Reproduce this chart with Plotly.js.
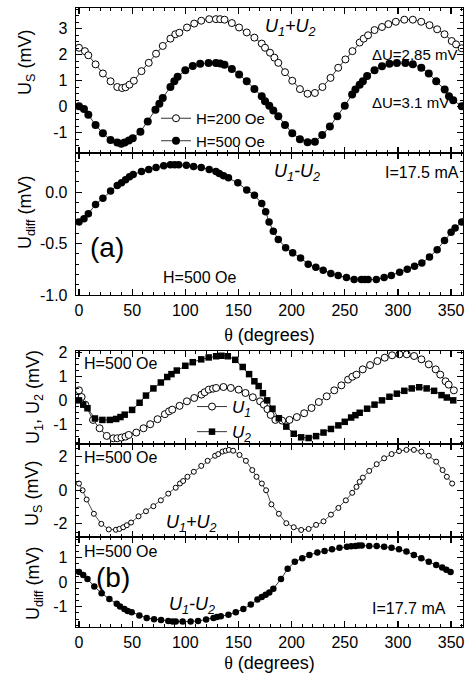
<!DOCTYPE html>
<html>
<head>
<meta charset="utf-8">
<script src="https://cdn.plot.ly/plotly-3.0.1.min.js"></script>
<style>html,body{margin:0;padding:0;background:#fff;}#chart{width:470px;height:673px;}</style>
</head>
<body>
<div id="chart"></div>
<script>
// ---------- data ----------
// (a) top panel: U_S = U1+U2, two fields
const thetaA200 = [0,5.6,8.8,15.6,22.5,29.7,36,40.6,43.8,47.5,51.6,58.8,65.6,72.5,78.8,86,90.6,94.4,101.6,108.4,115,122.5,128.8,132.8,136.9,143.8,150.6,157.8,165,171.9,175,179.7,183.8,187.5,193.8,200.6,207.8,215,221.9,229,236.6,243.8,250.6,257.2,264,267.8,271.9,278,285,291,298,306,314,321.9,329.7,336.9,343.8,350.6,354.7,360];
const usA200 = [2.27,2.14,1.98,1.63,1.28,0.98,0.76,0.72,0.75,0.85,1.0,1.37,1.69,2.04,2.34,2.62,2.79,2.85,3.05,3.2,3.31,3.37,3.37,3.37,3.35,3.22,3.05,2.86,2.66,2.43,2.27,2.08,1.89,1.69,1.33,1.0,0.68,0.5,0.53,0.76,1.11,1.5,1.82,2.14,2.47,2.62,2.75,2.95,3.07,3.18,3.27,3.35,3.35,3.27,3.14,2.98,2.79,2.53,2.4,2.25];
const thetaA500 = [0,4.7,8.8,15.6,22.5,29.7,36,39.7,43,46.9,50.6,57.8,64.7,71.9,75.6,78.8,86,89.7,92.8,100,107,114,121.9,128.8,132.8,136.9,143.8,150.6,157.8,165,171.9,175,179,182.8,187.5,193.8,200.6,207.8,215,221.9,228.8,236,243,250,256.9,260,264,267,271,278,285,292,299,307,314,322,329,336,344,348,352,360];
const usA500 = [0.02,-0.09,-0.31,-0.70,-1.02,-1.28,-1.38,-1.42,-1.38,-1.30,-1.21,-0.96,-0.57,-0.12,0.12,0.34,0.76,0.98,1.15,1.40,1.57,1.65,1.68,1.68,1.66,1.62,1.45,1.24,0.98,0.68,0.40,0.21,0.04,-0.14,-0.37,-0.70,-1.02,-1.25,-1.37,-1.35,-1.09,-0.76,-0.37,0.04,0.47,0.66,0.85,0.98,1.18,1.40,1.56,1.65,1.68,1.68,1.64,1.50,1.28,0.98,0.66,0.40,0.25,0.02];
// (a) bottom panel: U_diff = U1-U2
const thetaAdiff = [0,4.7,8.8,15.6,22.5,29.7,36,40,43.8,47.5,51,58.8,65.6,72.5,79.7,86,90,93.8,101,107.8,115,122.5,128.8,132,136,140.6,149.4,157.8,165,171.9,175.6,178.8,182.8,187.5,194.4,201,208.4,215.6,222.8,229.7,236.9,243.8,251.6,258.8,265.6,268.8,272,279.7,287,293.8,301.6,308.8,315.6,322.5,329.7,336.9,343.8,350,353.8,360];
const udiffA = [-0.29,-0.26,-0.21,-0.12,-0.06,0.01,0.065,0.09,0.12,0.15,0.17,0.20,0.22,0.24,0.255,0.265,0.265,0.265,0.26,0.25,0.24,0.22,0.20,0.18,0.16,0.14,0.09,0.02,-0.03,-0.11,-0.19,-0.29,-0.38,-0.46,-0.54,-0.59,-0.64,-0.70,-0.73,-0.76,-0.79,-0.81,-0.83,-0.85,-0.85,-0.85,-0.85,-0.85,-0.83,-0.81,-0.78,-0.75,-0.72,-0.69,-0.63,-0.56,-0.47,-0.39,-0.35,-0.29];
// (b) top panel: U1 and U2
const thetaU1 = [0,2.5,5.9,13.2,19.4,26.1,32.3,36,40,43.7,46.8,53.9,60.7,67,73.9,80.8,84.7,87.7,94.6,101.5,108.4,115.2,118.2,122.1,126.1,129,135.9,142.8,150.2,156.6,163.5,170.4,173.9,177.3,180.3,184.7,191.1,198,204.9,211.8,218.7,225.6,233,240.1,246.8,253.1,257.1,261,266.9,273.8,280.7,287.6,294.5,301.4,308.3,315.2,322.1,329,335.5,339.8,344.8,347.7,352.6];
const u1B = [0.42,0.14,-0.18,-0.82,-1.17,-1.49,-1.59,-1.59,-1.56,-1.52,-1.45,-1.35,-1.17,-1.0,-0.79,-0.58,-0.46,-0.39,-0.23,-0.04,0.10,0.24,0.34,0.45,0.49,0.52,0.56,0.52,0.45,0.31,0.13,-0.04,-0.18,-0.37,-0.61,-0.82,-0.85,-0.82,-0.70,-0.54,-0.32,-0.07,0.17,0.42,0.63,0.87,0.99,1.08,1.30,1.48,1.65,1.79,1.89,1.93,1.93,1.86,1.72,1.51,1.30,1.08,0.80,0.66,0.42];
const thetaU2 = [0,4,8,15,22,29,35,39,43,50,57,63,70,77,83,87,92,100,107,115,122,129,134,140,147,154,160,165,169,173,177,182,188,195,202,209,216,223,230,237,244,250,256,260,264,271,278,285,292,299,306,313,320,327,334,341,346,352];
const u2B = [0,-0.18,-0.33,-0.76,-0.82,-0.82,-0.78,-0.7,-0.6,-0.4,-0.1,0.2,0.5,0.75,0.98,1.1,1.25,1.45,1.6,1.72,1.8,1.85,1.87,1.85,1.7,1.4,1.1,0.8,0.6,0.3,0.0,-0.35,-0.75,-1.1,-1.4,-1.55,-1.58,-1.5,-1.35,-1.2,-1.05,-0.9,-0.72,-0.62,-0.52,-0.35,-0.18,0.0,0.15,0.28,0.4,0.5,0.55,0.5,0.4,0.22,0.12,0.0];
// (b) middle panel: U_S = U1+U2
const thetaBs = [0,3.4,7.2,14,21,28,34.7,38,41.6,45,49,56,63,70,77,84,91,95,98,102,108,115,121,128,131,135,138,141,145,151,157,163,167,172,176,181,188,195,202,209,216,223,230,237,244,251,257,261,264,267,273,280,287,294,301,308,315,322,329,336,342,346,351];
const usB = [0.4,0.0,-0.55,-1.4,-2.0,-2.33,-2.35,-2.3,-2.2,-2.08,-1.92,-1.55,-1.25,-0.95,-0.6,-0.2,0.15,0.4,0.55,0.8,1.1,1.45,1.75,2.05,2.15,2.3,2.35,2.4,2.35,2.1,1.75,1.2,0.8,0.4,0.0,-0.84,-1.4,-1.96,-2.2,-2.36,-2.3,-2.06,-1.85,-1.45,-1.05,-0.6,-0.15,0.2,0.5,0.75,1.15,1.55,1.9,2.15,2.33,2.4,2.4,2.3,2.05,1.7,1.2,0.8,0.4];
// (b) bottom panel: U_diff = U1-U2
const thetaBdiff = [0,4,8,14.4,21.3,28.6,35.5,38.6,42.7,45.8,49.6,56.8,63.7,70.6,77.2,84,88,91,97.5,105,112,119.6,126.5,129.7,133.4,140.6,147.5,154.6,161.6,167.8,171.9,175.6,179,182.8,190,196.3,203,210,216.7,224.2,231,238,245,252,256,260,263,266,273,280,287,294,301,308,315,322,329,336,341.6,345.5,349.5];
const udiffB = [0.42,0.29,0.13,-0.17,-0.45,-0.68,-0.87,-0.99,-1.09,-1.17,-1.22,-1.35,-1.45,-1.5,-1.54,-1.58,-1.6,-1.6,-1.6,-1.6,-1.58,-1.51,-1.45,-1.41,-1.38,-1.32,-1.22,-1.09,-0.9,-0.70,-0.6,-0.51,-0.42,-0.26,0.13,0.55,0.83,0.98,1.11,1.21,1.27,1.34,1.40,1.44,1.46,1.47,1.49,1.49,1.47,1.47,1.44,1.40,1.34,1.25,1.11,0.98,0.83,0.70,0.60,0.51,0.42];

// tick labels
const xTickVals = [0,50,100,150,200,250,300,350];
const xTickText = ['0','50','100','150','200','250','300','350'];
const yA1Vals = [-1,0,1,2,3];            const yA1Text = ['-1','0','1','2','3'];
const yA2Vals = [-1.0,-0.5,0.0];         const yA2Text = ['-1.0','-0.5','0.0'];
const yB1Vals = [-1,0,1,2];              const yB1Text = ['-1','0','1','2'];
const yB2Vals = [-2,0,2];                const yB2Text = ['-2','0','2'];
const yB3Vals = [-1,0,1];                const yB3Text = ['-1','0','1'];

// ---------- styling / layout ----------
const FONT = 'Liberation Sans, Arial, Helvetica, sans-serif';
const W = 470, H = 673, L = 76, R = 7;
const PW = W - L - R;
const px = v => (v - L) / PW;          // pixel x -> paper x
const py = v => 1 - v / H;             // pixel y -> paper y

const lineStyle = {color: 'black', width: 0.8};
const openMk = s => ({symbol: 'circle', size: s, color: 'white', line: {color: 'black', width: 1}});
const fillMk = s => ({symbol: 'circle', size: s, color: 'black', line: {color: 'black', width: 0}});

const traces = [
  {x: thetaA200, y: usA200, xaxis: 'x', yaxis: 'y', mode: 'lines+markers', name: 'H=200 Oe',
   line: lineStyle, marker: openMk(7), legend: 'legend'},
  {x: thetaA500, y: usA500, xaxis: 'x', yaxis: 'y', mode: 'lines+markers', name: 'H=500 Oe',
   line: lineStyle, marker: fillMk(8), legend: 'legend'},
  {x: thetaAdiff, y: udiffA, xaxis: 'x2', yaxis: 'y2', mode: 'lines+markers', showlegend: false,
   line: lineStyle, marker: fillMk(7.5)},
  {x: thetaU1, y: u1B, xaxis: 'x3', yaxis: 'y3', mode: 'lines+markers', name: '<i>U</i><sub><i>1</i></sub>',
   line: lineStyle, marker: openMk(7), legend: 'legend2'},
  {x: thetaU2, y: u2B, xaxis: 'x3', yaxis: 'y3', mode: 'lines+markers', name: '<i>U</i><sub><i>2</i></sub>',
   line: lineStyle, marker: {symbol: 'square', size: 6.5, color: 'black'}, legend: 'legend2'},
  {x: thetaBs, y: usB, xaxis: 'x4', yaxis: 'y4', mode: 'lines+markers', showlegend: false,
   line: {color: 'black', width: 0.7}, marker: openMk(5)},
  {x: thetaBdiff, y: udiffB, xaxis: 'x5', yaxis: 'y5', mode: 'lines+markers', showlegend: false,
   line: lineStyle, marker: fillMk(6.5)}
];

const tickFont = {family: FONT, size: 16, color: 'black'};
function xAxis(anchor, labels, title) {
  const a = {
    domain: [0, 1], anchor: anchor, range: [-2.8, 361.2],
    showline: true, linewidth: 1.3, linecolor: 'black', mirror: 'allticks',
    ticks: 'inside', ticklen: 6, tickwidth: 1.2, tickcolor: 'black',
    tickvals: xTickVals, ticktext: xTickText, showticklabels: labels,
    showgrid: false, zeroline: false, tickfont: tickFont,
    minor: {dtick: 10, tick0: 0, ticks: 'inside', ticklen: 3, tickwidth: 1, tickcolor: 'black', showgrid: false}
  };
  if (title) a.title = {text: '<span style="font-family:Liberation Serif">θ</span> (degrees)',
                        font: {family: FONT, size: 18, color: 'black'}, standoff: title};
  return a;
}
function yAxis(anchor, dom, range, vals, text, minor) {
  return {
    domain: dom, anchor: anchor, range: range,
    showline: true, linewidth: 1.3, linecolor: 'black', mirror: 'allticks',
    ticks: 'inside', ticklen: 6, tickwidth: 1.2, tickcolor: 'black',
    tickvals: vals, ticktext: text, showgrid: false, zeroline: false, tickfont: tickFont,
    ticklabelstandoff: 4,
    minor: {dtick: minor, ticks: 'inside', ticklen: 3, tickwidth: 1, tickcolor: 'black', showgrid: false}
  };
}

const annFont = (s) => ({family: FONT, size: s, color: 'black'});
function ann(text, x, y, size, xanchor, angle) {
  return {text: text, xref: 'paper', yref: 'paper', x: px(x), y: py(y),
          xanchor: xanchor || 'center', yanchor: 'middle', showarrow: false,
          textangle: angle || 0, font: annFont(size)};
}

const annotations = [
  // y-axis titles
  ann('U<sub>S</sub> (mV)', 26, 63, 18, 'center', -90),
  ann('U<sub>diff</sub> (mV)', 26, 212, 18, 'center', -90),
  ann('U<sub>1</sub>, U<sub>2</sub> (mV)', 34, 397, 18, 'center', -90),
  ann('U<sub>S</sub> (mV)', 34, 494, 18, 'center', -90),
  ann('U<sub>diff</sub> (mV)', 34, 583, 18, 'center', -90),
  // panel (a)
  ann('<i>U<sub>1</sub>+U<sub>2</sub></i>', 290, 28, 18),
  ann('ΔU=2.85 mV', 370, 54, 15, 'left'),
  ann('ΔU=3.1 mV', 370, 102, 15, 'left'),
  ann('<i>U<sub>1</sub>-U<sub>2</sub></i>', 297, 172, 18),
  ann('I=17.5 mA', 461, 172, 16, 'right'),
  ann('(a)', 107, 247, 28),
  ann('H=500 Oe', 199, 277, 16),
  // panel (b)
  ann('H=500 Oe', 82, 363, 16, 'left'),
  ann('H=500 Oe', 82, 457, 16, 'left'),
  ann('<i>U<sub>1</sub>+U<sub>2</sub></i>', 191, 523, 18),
  ann('H=500 Oe', 82, 551, 16, 'left'),
  ann('(b)', 113, 577, 28),
  ann('<i>U<sub>1</sub>-U<sub>2</sub></i>', 192, 605, 18),
  ann('I=17.7 mA', 448, 608, 16, 'right')
];

const layout = {
  width: W, height: H,
  margin: {l: L, r: R, t: 0, b: 0},
  paper_bgcolor: 'white', plot_bgcolor: 'white',
  font: {family: FONT, size: 16, color: 'black'},
  xaxis: xAxis('y', false),
  yaxis: yAxis('x', [py(153), py(8)], [-1.78, 3.8], yA1Vals, yA1Text, 0.25),
  xaxis2: xAxis('y2', true, 11),
  yaxis2: yAxis('x2', [py(295), py(153)], [-1.0, 0.38], yA2Vals, yA2Text, 0.1),
  xaxis3: xAxis('y3', false),
  yaxis3: yAxis('x3', [py(444), py(351)], [-1.83, 2.07], yB1Vals, yB1Text, 0.25),
  xaxis4: xAxis('y4', false),
  yaxis4: yAxis('x4', [py(537), py(444)], [-2.78, 2.75], yB2Vals, yB2Text, 0.5),
  xaxis5: xAxis('y5', true, 7),
  yaxis5: yAxis('x5', [py(627), py(537)], [-1.82, 1.84], yB3Vals, yB3Text, 0.25),
  legend: {x: px(156), y: py(102), xanchor: 'left', yanchor: 'top', bgcolor: 'rgba(0,0,0,0)',
           borderwidth: 0, font: {family: FONT, size: 15, color: 'black'}, tracegroupgap: 0},
  legend2: {x: px(192), y: py(389), xanchor: 'left', yanchor: 'top', bgcolor: 'rgba(0,0,0,0)',
            borderwidth: 0, font: {family: FONT, size: 17, color: 'black'}, tracegroupgap: 0},
  annotations: annotations,
  showlegend: true
};

Plotly.newPlot('chart', traces, layout, {staticPlot: true, displayModeBar: false});
</script>
</body>
</html>
